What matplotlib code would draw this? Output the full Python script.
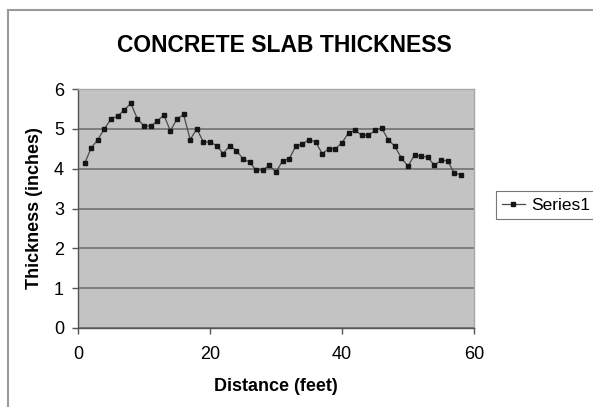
import matplotlib
matplotlib.use("Agg")
import matplotlib.pyplot as plt
from matplotlib.lines import Line2D

plt.rcParams['font.family'] = ['Liberation Sans', 'DejaVu Sans']

distance = list(range(1, 59))
thickness = [4.13, 4.52, 4.73, 5.00, 5.25, 5.32, 5.47, 5.64, 5.25, 5.07,
             5.07, 5.19, 5.35, 4.95, 5.25, 5.36, 4.73, 5.00, 4.67, 4.67,
             4.58, 4.38, 4.58, 4.45, 4.25, 4.16, 3.96, 3.97, 4.08, 3.91,
             4.20, 4.25, 4.56, 4.62, 4.73, 4.67, 4.38, 4.50, 4.50, 4.65,
             4.90, 4.96, 4.84, 4.84, 4.96, 5.02, 4.73, 4.56, 4.27, 4.06,
             4.35, 4.31, 4.29, 4.08, 4.21, 4.20, 3.89, 3.85]
x_ticks = [0, 20, 40, 60]
y_ticks = [0, 1, 2, 3, 4, 5, 6]
title = "CONCRETE SLAB THICKNESS"
x_label = "Distance (feet)"
y_label = "Thickness (inches)"
series_name = "Series1"

W, H = 593, 407
fig = plt.figure(figsize=(W / 100, H / 100), dpi=100)
fig.patch.set_facecolor('white')

# outer chart frame (cut at right and bottom)
fig.add_artist(Line2D([7.5 / W, 1.0], [1 - 10 / H, 1 - 10 / H], transform=fig.transFigure,
                      color='#9a9a9a', lw=1.5))
fig.add_artist(Line2D([7.5 / W, 7.5 / W], [0.0, 1 - 10 / H], transform=fig.transFigure,
                      color='#9a9a9a', lw=1.5))

left, right = 78 / W, 474 / W
bottom, top = 1 - 328 / H, 1 - 89 / H
ax = fig.add_axes([left, bottom, right - left, top - bottom])
ax.set_facecolor('#c3c3c3')

ax.plot(distance, thickness, color='#4a4a4a', lw=0.9, marker='s', markersize=2.8,
        markerfacecolor='#151515', markeredgecolor='#151515', label=series_name)

ax.set_xlim(0, 60)
ax.set_ylim(0, 6)
ax.set_xticks(x_ticks)
ax.set_yticks(y_ticks)
ax.yaxis.grid(True, color='#777777', lw=1.3)
ax.set_axisbelow(True)
ax.tick_params(axis='both', direction='out', length=4, width=1, color='#555555',
               labelsize=13, pad=6)
ax.tick_params(axis='x', pad=9)
for s in ['left', 'bottom']:
    ax.spines[s].set_color('#555555')
    ax.spines[s].set_linewidth(1.0)
for s in ['top', 'right']:
    ax.spines[s].set_color('#a8a8a8')
    ax.spines[s].set_linewidth(1.0)

ax.set_xlabel(x_label, fontsize=13, fontweight='bold', labelpad=11)
ax.set_ylabel(y_label, fontsize=13, fontweight='bold', labelpad=8)
fig.text(284 / W, 1 - 46 / H, title, fontsize=16.5, fontweight='bold', ha='center', va='center')

leg = ax.legend(loc='center left', bbox_to_anchor=(496 / W, 1 - 205 / H),
                bbox_transform=fig.transFigure, frameon=True, fancybox=False,
                fontsize=12.5, handlelength=1.3, handletextpad=0.4, borderpad=0.35,
                borderaxespad=0)
leg.get_frame().set_edgecolor('#555555')
leg.get_frame().set_linewidth(0.8)
for h in leg.legend_handles:
    h.set_markersize(2.2)

fig.savefig('out.png', dpi=100)
